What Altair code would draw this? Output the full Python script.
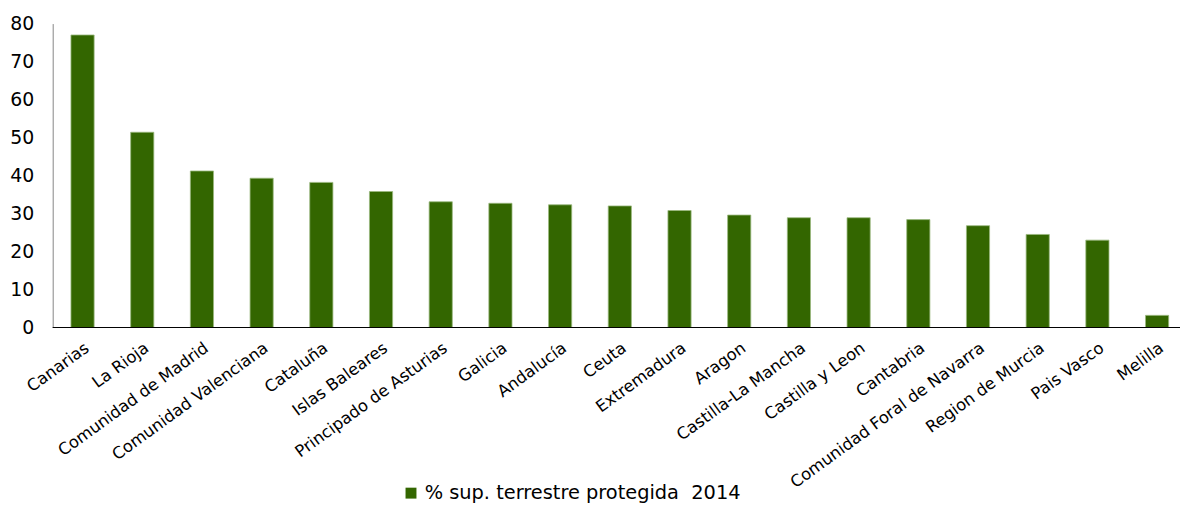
import altair as alt
import pandas as pd

regions = [
    "Canarias", "La Rioja", "Comunidad de Madrid", "Comunidad Valenciana",
    "Cataluña", "Islas Baleares", "Principado de Asturias", "Galicia",
    "Andalucía", "Ceuta", "Extremadura", "Aragon", "Castilla-La Mancha",
    "Castilla y Leon", "Cantabria", "Comunidad Foral de Navarra",
    "Region de Murcia", "Pais Vasco", "Melilla",
]
values = [77.0, 51.4, 41.2, 39.3, 38.2, 35.8, 33.1, 32.7, 32.3, 32.0,
          30.8, 29.6, 28.9, 28.9, 28.4, 26.8, 24.5, 23.0, 3.2]
series_name = "% sup. terrestre protegida\u00a0 2014"
y_ticks = [0, 10, 20, 30, 40, 50, 60, 70, 80]

df = pd.DataFrame({"region": regions, "valor": values, "serie": series_name})

FONT = "DejaVu Sans"
W, H = 1135, 306

bars = alt.Chart(df).mark_bar(stroke="#9ab87e", strokeWidth=0.8).encode(
    x=alt.X(
        "region:N",
        sort=regions,
        scale=alt.Scale(range=[0, 1142], paddingInner=0.612, paddingOuter=0.306),
        axis=alt.Axis(
            title=None, labelAngle=-36, labelFontSize=16.5, labelColor="#000000",
            domain=False, ticks=False, labelPadding=12, labelFont=FONT,
            labelLimit=0,
        ),
    ),
    y=alt.Y(
        "valor:Q",
        scale=alt.Scale(domain=[0, 80], nice=False),
        axis=alt.Axis(
            title=None, values=y_ticks, grid=False, ticks=False,
            domainColor="#868686", domainWidth=1, labelFontSize=19,
            labelColor="#000000", labelPadding=19, labelFont=FONT,
        ),
    ),
    color=alt.Color(
        "serie:N",
        scale=alt.Scale(range=["#336600"]),
        legend=alt.Legend(
            title=None, orient="none", legendX=351, legendY=463,
            symbolType="square", symbolSize=121, symbolStrokeWidth=0,
            labelFontSize=19.5, labelColor="#000000", labelFont=FONT,
            labelLimit=0,
        ),
    ),
)

axis_line = alt.Chart(pd.DataFrame({"a": [0]})).mark_rule(
    color="#000000", strokeWidth=1
).encode(x=alt.value(0), x2=alt.value(W), y=alt.value(H))

chart = alt.layer(bars, axis_line).properties(
    width=W, height=H,
    autosize=alt.AutoSizeParams(type="none"),
    padding={"left": 45, "top": 14, "right": 0, "bottom": 177},
).configure(
    font=FONT, background="white", view=alt.ViewConfig(stroke=None)
)

chart.save("out.html", embed_options={"renderer": "svg", "actions": False})
